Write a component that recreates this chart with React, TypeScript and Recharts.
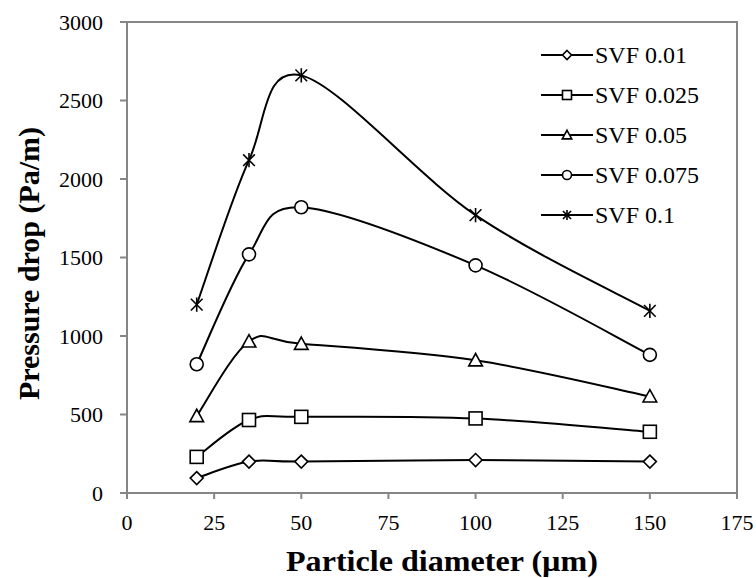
import React from 'react';
import { LineChart, Line, XAxis, YAxis, ReferenceArea } from 'recharts';

const diameters = [20, 35, 50, 100, 150];
const svf001 = [95, 200, 200, 210, 200];
const svf0025 = [230, 465, 485, 475, 390];
const svf005 = [490, 965, 950, 845, 615];
const svf0075 = [820, 1520, 1820, 1450, 880];
const svf01 = [1200, 2120, 2660, 1770, 1160];
const xTicks = [0, 25, 50, 75, 100, 125, 150, 175];
const yTicks = [0, 500, 1000, 1500, 2000, 2500, 3000];

const seriesDefs = [
  { key: 's1', name: 'SVF 0.01', values: svf001, shape: 'diamond' },
  { key: 's2', name: 'SVF 0.025', values: svf0025, shape: 'square' },
  { key: 's3', name: 'SVF 0.05', values: svf005, shape: 'triangle' },
  { key: 's4', name: 'SVF 0.075', values: svf0075, shape: 'circle' },
  { key: 's5', name: 'SVF 0.1', values: svf01, shape: 'star' },
];

const data = diameters.map((d, i) => {
  const row: any = { d };
  seriesDefs.forEach((s) => { row[s.key] = s.values[i]; });
  return row;
});

// Excel-like smoothing (Catmull-Rom style bezier)
function excelCurve(context: any) {
  let pts: number[][] = [];
  return {
    areaStart() {},
    areaEnd() {},
    lineStart() { pts = []; },
    lineEnd() {
      const n = pts.length;
      if (n === 0) return;
      context.moveTo(pts[0][0], pts[0][1]);
      for (let i = 0; i < n - 1; i++) {
        const p0 = pts[Math.max(i - 1, 0)];
        const p1 = pts[i];
        const p2 = pts[i + 1];
        const p3 = pts[Math.min(i + 2, n - 1)];
        context.bezierCurveTo(
          p1[0] + (p2[0] - p0[0]) / 6, p1[1] + (p2[1] - p0[1]) / 6,
          p2[0] - (p3[0] - p1[0]) / 6, p2[1] - (p3[1] - p1[1]) / 6,
          p2[0], p2[1]
        );
      }
    },
    point(x: number, y: number) { pts.push([+x, +y]); },
  };
}

function MarkerShape({ shape, cx, cy, s }: any) {
  const common = { fill: '#fff', stroke: '#000', strokeWidth: 1.6 };
  const h = s / 2;
  if (shape === 'diamond') {
    return <polygon points={`${cx},${cy - h} ${cx + h},${cy} ${cx},${cy + h} ${cx - h},${cy}`} {...common} />;
  }
  if (shape === 'square') {
    return <rect x={cx - h} y={cy - h} width={s} height={s} {...common} />;
  }
  if (shape === 'triangle') {
    return <polygon points={`${cx},${cy - h * 1.05} ${cx + h * 1.05},${cy + h * 0.85} ${cx - h * 1.05},${cy + h * 0.85}`} {...common} />;
  }
  if (shape === 'circle') {
    return <circle cx={cx} cy={cy} r={h} {...common} />;
  }
  const a = h * 0.9;
  return (
    <g stroke="#000" strokeWidth={1.6}>
      <line x1={cx - a} y1={cy - a} x2={cx + a} y2={cy + a} />
      <line x1={cx - a} y1={cy + a} x2={cx + a} y2={cy - a} />
      <line x1={cx} y1={cy - h * 1.1} x2={cx} y2={cy + h * 1.1} />
    </g>
  );
}

const serif = "'Liberation Serif', 'Times New Roman', serif";

function LegendBox() {
  return (
    <svg width={215} height={200} style={{ position: 'absolute', left: 541, top: 35 }}>
      {seriesDefs.map((s, i) => {
        const y = 20 + i * 40;
        return (
          <g key={s.key}>
            <line x1={0} y1={y} x2={52} y2={y} stroke="#000" strokeWidth={2} />
            <MarkerShape shape={s.shape} cx={26} cy={y} s={9} />
            <text x={54} y={y + 8} fontFamily={serif} fontSize={24} fill="#000">{s.name}</text>
          </g>
        );
      })}
    </svg>
  );
}

const YTick = (props: any) => {
  const { x, y, payload } = props;
  return (
    <text x={x} y={y} dy={7.5} textAnchor="end" fontFamily={serif} fontSize={22} fill="#000">{payload.value}</text>
  );
};

const XTick = (props: any) => {
  const { x, y, payload } = props;
  return (
    <text x={x} y={y} dy={15.5} textAnchor="middle" fontFamily={serif} fontSize={22} fill="#000">{payload.value}</text>
  );
};

const YLabel = (props: any) => {
  const vb = props.viewBox || {};
  const cy = vb.y + vb.height / 2 + 6;
  const x = 39;
  return (
    <text x={x} y={cy} transform={`rotate(-90 ${x} ${cy})`} textAnchor="middle"
      fontFamily={serif} fontWeight="bold" fontSize={29} fill="#000"
      textLength={273} lengthAdjust="spacingAndGlyphs">
      Pressure drop (Pa/m)
    </text>
  );
};

const XLabel = (props: any) => {
  const vb = props.viewBox || {};
  const cx = vb.x + vb.width / 2 + 10;
  return (
    <text x={cx} y={571} textAnchor="middle"
      fontFamily={serif} fontWeight="bold" fontSize={29} fill="#000"
      textLength={312} lengthAdjust="spacingAndGlyphs">
      Particle diameter (µm)
    </text>
  );
};

export default function App() {
  const axisColor = '#868686';
  return (
    <div style={{ position: 'absolute', left: 0, top: 0, width: 756, height: 578, background: '#fff' }}>
      <LineChart width={756} height={578} data={data} margin={{ top: 22, right: 19, left: 0, bottom: 0 }}>
        <XAxis dataKey="d" type="number" domain={[0, 175]} ticks={xTicks} interval={0}
          height={85} tickSize={6} tickMargin={15}
          stroke={axisColor} axisLine={{ stroke: axisColor, strokeWidth: 2 }}
          tickLine={{ stroke: axisColor, strokeWidth: 2 }}
          tick={<XTick />}
          label={<XLabel />} />
        <YAxis type="number" domain={[0, 3000]} ticks={yTicks} interval={0}
          width={127} tickSize={7} tickMargin={17}
          stroke={axisColor} axisLine={{ stroke: axisColor, strokeWidth: 2 }}
          tickLine={{ stroke: axisColor, strokeWidth: 2 }}
          tick={<YTick />}
          label={<YLabel />} />
        <ReferenceArea x1={0} x2={175} y1={0} y2={3000} fill="none" stroke={axisColor} strokeWidth={2} ifOverflow="visible" />
        {seriesDefs.map((s) => (
          <Line key={s.key} dataKey={s.key} name={s.name} type={excelCurve as any}
            stroke="#000" strokeWidth={2} isAnimationActive={false}
            dot={(p: any) => <MarkerShape key={`${s.key}-${p.index}`} shape={s.shape} cx={p.cx} cy={p.cy} s={13} />}
            activeDot={false} />
        ))}
      </LineChart>
      <LegendBox />
    </div>
  );
}
